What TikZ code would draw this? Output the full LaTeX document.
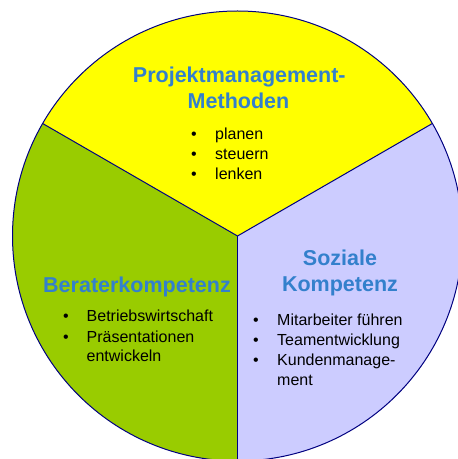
\documentclass[tikz,border=0pt]{standalone}
\usepackage{fontspec}
\setmainfont{Liberation Sans}
\definecolor{pieyellow}{HTML}{FFFF00}
\definecolor{piegreen}{HTML}{99CC00}
\definecolor{pielav}{HTML}{CCCCFF}
\definecolor{pieline}{HTML}{000080}
\definecolor{titleblue}{HTML}{3380CC}
\tikzset{
  title/.style={anchor=base, inner sep=0pt, text=titleblue, font=\fontsize{21.5bp}{26bp}\selectfont\bfseries},
  item/.style={anchor=base west, inner sep=0pt, font=\fontsize{16bp}{20bp}\selectfont},
  dot/.style={anchor=base, inner sep=0pt, font=\fontsize{16bp}{20bp}\selectfont},
  edge/.style={draw=pieline, line width=1bp},
}
\begin{document}
\begin{tikzpicture}[x=1bp,y=-1bp]
\useasboundingbox (0,0) rectangle (458,459);
\clip (0,0) rectangle (458,459);
\coordinate (c) at (237.5,236);
\fill[pieyellow] (c) -- ++(-30:225) arc[start angle=-30, end angle=-150, radius=225] -- cycle;
\fill[piegreen] (c) -- ++(-150:225) arc[start angle=-150, end angle=-270, radius=225] -- cycle;
\fill[pielav] (c) -- ++(-270:225) arc[start angle=-270, end angle=-390, radius=225] -- cycle;
\draw[edge] (c) circle[radius=225];
\draw[edge] (c) -- ++(-30:225);
\draw[edge] (c) -- ++(-150:225);
\draw[edge] (c) -- ++(-270:226);
% Projektmanagement
\node[title] (t1a) at (239.3,82.5) {Projektmanagement-};
\node[title] (t1b) at (238.5,108.5) {Methoden};
\node[dot] (d1a) at (194,140) {•};
\node[dot] (d1b) at (194,159.5) {•};
\node[dot] (d1c) at (194,179.5) {•};
\node[item] (i1a) at (215,140) {planen};
\node[item] (i1b) at (215,159.5) {steuern};
\node[item] (i1c) at (215,179.5) {lenken};
% Berater
\node[title] (t2) at (137,292) {Beraterkompetenz};
\node[dot] (d2a) at (66,321.5) {•};
\node[dot] (d2b) at (66,342) {•};
\node[item] (i2a) at (86.5,321.5) {Betriebswirtschaft};
\node[item] (i2b) at (86.5,342) {Präsentationen};
\node[item] (i2c) at (86.5,361) {entwickeln};
% Soziale
\node[title] (t3a) at (340,265) {Soziale};
\node[title] (t3b) at (340,291) {Kompetenz};
\node[dot] (d3a) at (256,325.7) {•};
\node[dot] (d3b) at (256,345.5) {•};
\node[dot] (d3c) at (256,365.5) {•};
\node[item] (i3a) at (277,325.7) {Mitarbeiter führen};
\node[item] (i3b) at (277,345.5) {Teamentwicklung};
\node[item] (i3c) at (277,365.5) {Kundenmanage-};
\node[item] (i3d) at (277,385) {ment};
\end{tikzpicture}
\end{document}
